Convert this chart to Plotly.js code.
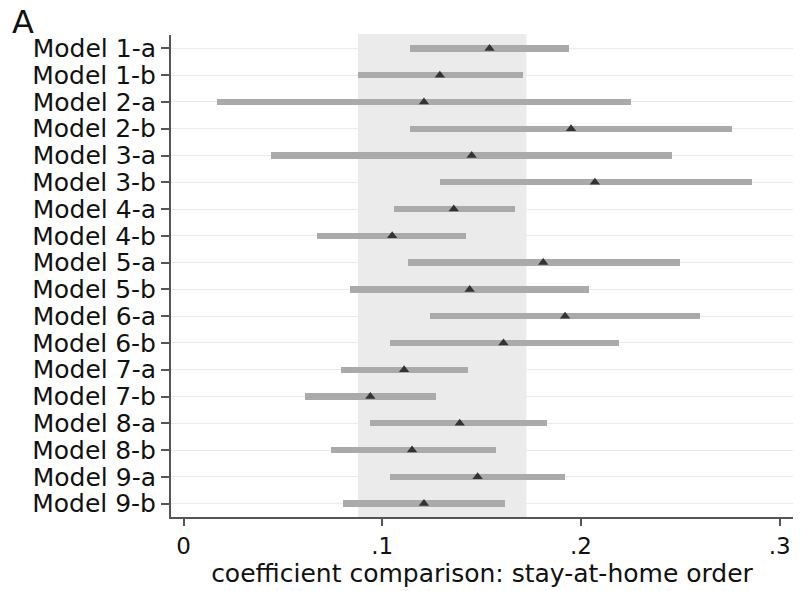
<!DOCTYPE html>
<html>
<head>
<meta charset="utf-8">
<script src="https://cdn.plot.ly/plotly-3.0.1.min.js"></script>
<style>html,body{margin:0;padding:0;background:#fff;}#chart{width:802px;height:591px;}</style>
</head>
<body>
<div id="chart"></div>
<script>
const models = ["Model 1-a","Model 1-b","Model 2-a","Model 2-b","Model 3-a","Model 3-b","Model 4-a","Model 4-b","Model 5-a","Model 5-b","Model 6-a","Model 6-b","Model 7-a","Model 7-b","Model 8-a","Model 8-b","Model 9-a","Model 9-b"];
const estimate = [0.154,0.129,0.121,0.195,0.145,0.207,0.136,0.105,0.181,0.144,0.192,0.161,0.111,0.094,0.139,0.115,0.148,0.121];
const lower    = [0.114,0.088,0.017,0.114,0.044,0.129,0.106,0.067,0.113,0.084,0.124,0.104,0.079,0.061,0.094,0.074,0.104,0.080];
const upper    = [0.194,0.171,0.225,0.276,0.246,0.286,0.167,0.142,0.250,0.204,0.260,0.219,0.143,0.127,0.183,0.157,0.192,0.162];
const bandRange = [0.0878, 0.1726];
const xTickVals = [0, 0.1, 0.2, 0.3];
const xTickText = ["0", ".1", ".2", ".3"];
const panelLabel = "A";

const FONT = "DejaVu Sans, Liberation Sans, Arial, sans-serif";

const ciTrace = {
  type: "bar",
  orientation: "h",
  y: models,
  base: lower,
  x: upper.map((u, i) => u - lower[i]),
  width: 0.24,
  marker: {color: "#aaaaaa", line: {width: 0}},
  hoverinfo: "skip",
  showlegend: false
};
const ptTrace = {
  type: "scatter",
  mode: "markers",
  y: models,
  x: estimate,
  marker: {symbol: "triangle-up", size: 9, color: "#333333"},
  showlegend: false,
  cliponaxis: false
};

const layout = {
  width: 802,
  height: 591,
  margin: {l: 171, r: 9, t: 35, b: 74},
  paper_bgcolor: "#ffffff",
  plot_bgcolor: "#ffffff",
  font: {family: FONT, color: "#111111"},
  annotations: [{
    text: panelLabel,
    xref: "paper", yref: "paper",
    x: -0.259, xanchor: "left",
    y: 1.070, yanchor: "top",
    showarrow: false,
    font: {family: FONT, size: 32, color: "#111111"}
  }],
  xaxis: {
    range: [-0.0063, 0.3067],
    tickvals: xTickVals,
    ticktext: xTickText,
    ticks: "outside",
    ticklen: 7,
    tickwidth: 2,
    tickcolor: "#555555",
    showline: true,
    linecolor: "#555555",
    linewidth: 2,
    showgrid: false,
    zeroline: false,
    tickfont: {family: FONT, size: 23, color: "#111111"},
    title: {text: "coefficient comparison: stay-at-home order", font: {family: FONT, size: 25, color: "#111111"}, standoff: 4}
  },
  yaxis: {
    type: "category",
    range: [models.length - 0.5, -0.5],
    autorange: false,
    tickmode: "array",
    tickvals: models,
    ticktext: models,
    ticks: "outside",
    ticklen: 8,
    tickwidth: 2,
    tickcolor: "#555555",
    showline: true,
    linecolor: "#555555",
    linewidth: 2,
    showgrid: true,
    gridcolor: "#ebebeb",
    gridwidth: 1,
    zeroline: false,
    tickfont: {family: FONT, size: 25, color: "#111111"}
  },
  shapes: [{
    type: "rect",
    xref: "x", yref: "paper",
    x0: bandRange[0], x1: bandRange[1],
    y0: 0, y1: 1.002,
    fillcolor: "#ebebeb",
    line: {width: 0},
    layer: "below"
  }],
  bargap: 0
};

Plotly.newPlot("chart", [ciTrace, ptTrace], layout, {displayModeBar: false, staticPlot: true});
</script>
</body>
</html>
